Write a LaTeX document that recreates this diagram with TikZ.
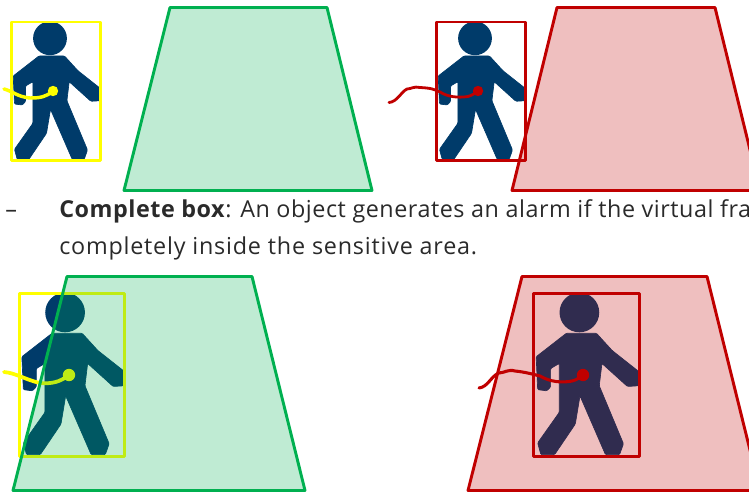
\documentclass[tikz,border=0pt]{standalone}
\usepackage{fontspec}
\setmainfont[LetterSpace=3.4]{Open Sans}
\newfontfamily\tightfont[LetterSpace=2.3]{Open Sans}
\definecolor{navy}{HTML}{003B6A}
\definecolor{grn}{HTML}{00B050}
\definecolor{rd}{HTML}{C00000}
\definecolor{yel}{HTML}{FFFF00}
\definecolor{txt}{HTML}{2A2A2A}
\tikzset{
  x=0.75pt,y=-0.75pt,
  boxline/.style={line width=2.2pt,line join=round},
  areafill/.style={fill opacity=0.25,draw=none},
  arealine/.style={line width=2.2pt,line join=round},
  trail/.style={line cap=round},
  bodytext/.style={anchor=base west,inner sep=0pt,text=txt,font=\fontsize{17.5pt}{20pt}\selectfont}
}
% #1 name, #2 left, #3 top, #4 scale, #5 colour
\newcommand{\walker}[5]{%
 \begin{scope}[shift={(#2,#3)},x=#4*0.75pt,y=-#4*0.75pt]
  \begin{scope}
   \clip (0,0) rectangle (89.6,138.7);
   \fill[navy] (38.8,16.3) circle (16.9);
   \filldraw[navy,line width=0.5pt,rounded corners=0.8pt] (27.7,34) -- (53.3,34) -- (66.7,48.7) -- (89,66.3) -- (89,78.7) -- (79.7,79.3) -- (58,59.7) -- (55.7,78.7) -- (76.3,128) -- (73,137.3) -- (61,137.3) -- (39.3,87.3) -- (35.3,111.3) -- (17.7,137.3) -- (6,137.3) -- (3.3,127.3) -- (21.7,101.3) -- (21.7,59.7) -- (14.3,64) -- (14.3,79.7) -- (11,83) -- (3.3,82) -- (2,54) -- cycle;
  \end{scope}
  \draw[boxline,draw=#5] (0,0) rectangle (89.6,138.7);
 \end{scope}}
\begin{document}
\begin{tikzpicture}
\useasboundingbox (0,0) rectangle (749,492);
\clip (0,0) rectangle (749,492);
% top-left
\walker{a}{11.2}{22}{1}{yel}
\coordinate (a0) at (4,89);
\coordinate (ad) at (53,91);
\draw[trail,yel,line width=2.6pt] (a0) .. controls (12,91) and (18,97) .. (30,98) .. controls (40,98) and (46,97) .. (ad);
\fill[yel] (ad) circle (5.2);
\coordinate (a1) at (170,7.5); \coordinate (a2) at (327,7.5); \coordinate (a3) at (372,190.5); \coordinate (a4) at (124,190.5);
\fill[grn,areafill] (a1) -- (a2) -- (a3) -- (a4) -- cycle;
\draw[grn,arealine] (a1) -- (a2) -- (a3) -- (a4) -- cycle;
% top-right
\walker{b}{436.2}{22}{1}{rd}
\coordinate (b0) at (389,102.5);
\coordinate (bd) at (478,91);
\draw[trail,rd,line width=2.1pt] (b0) .. controls (397,102) and (401,92) .. (407,89) .. controls (411,89) and (414,86) .. (420,87.5) .. controls (430,88) and (434,89) .. (440,92) .. controls (448,97) and (458,98) .. (468,96.5) .. controls (473,95) and (475,93) .. (bd);
\fill[rd] (bd) circle (5.2);
\coordinate (b1) at (557,7.5); \coordinate (b2) at (715,7.5); \coordinate (b3) at (760,190.5); \coordinate (b4) at (512,190.5);
\fill[rd,areafill] (b1) -- (b2) -- (b3) -- (b4) -- cycle;
\draw[rd,arealine] (b1) -- (b2) -- (b3) -- (b4) -- cycle;
% text
\node[bodytext] (dash) at (5,217.3) {–};
\node[bodytext] (l1) at (59,217.3) {\tightfont\textbf{Complete box}: An object generates an alarm if the virtual fra};
\node[bodytext] (l2) at (59,254.5) {completely inside the sensitive area.};
% bottom-left
\walker{c}{19.5}{293.3}{1.175}{yel}
\coordinate (c0) at (4,372);
\coordinate (cd) at (69,375);
\draw[trail,yel,line width=2.8pt] (c0) .. controls (16,373) and (26,380) .. (40,383) .. controls (52,384) and (60,382) .. (cd);
\fill[yel] (cd) circle (6.2);
\coordinate (c1) at (67,276.5); \coordinate (c2) at (252,276.5); \coordinate (c3) at (305,490.5); \coordinate (c4) at (13,490.5);
\fill[grn,areafill] (c1) -- (c2) -- (c3) -- (c4) -- cycle;
\draw[grn,arealine] (c1) -- (c2) -- (c3) -- (c4) -- cycle;
% bottom-right
\walker{d}{533.8}{293.3}{1.175}{rd}
\coordinate (d0) at (479,388);
\coordinate (dd) at (583,375);
\draw[trail,rd,line width=2.3pt] (d0) .. controls (488,387) and (491,376) .. (499,373) .. controls (504,373) and (508,369) .. (515,371) .. controls (525,372) and (532,374) .. (540,376) .. controls (550,382) and (562,383) .. (572,381) .. controls (577,380) and (580,377) .. (dd);
\fill[rd] (dd) circle (6.2);
\coordinate (d1) at (522,276.5); \coordinate (d2) at (707,276.5); \coordinate (d3) at (760,490.5); \coordinate (d4) at (468,490.5);
\fill[rd,areafill] (d1) -- (d2) -- (d3) -- (d4) -- cycle;
\draw[rd,arealine] (d1) -- (d2) -- (d3) -- (d4) -- cycle;
\end{tikzpicture}
\end{document}
